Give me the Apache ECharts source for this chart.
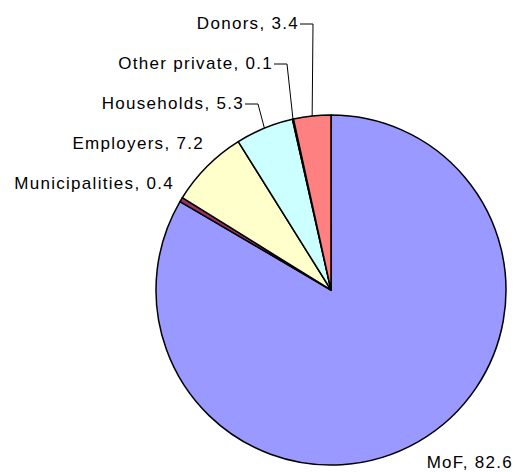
<!DOCTYPE html>
<html>
<head>
<meta charset="utf-8">
<script src="https://cdn.jsdelivr.net/npm/echarts@6/dist/echarts.min.js"></script>
<style>
  html, body { margin: 0; padding: 0; background: #fff; }
  #chart { width: 515px; height: 472px; }
  /* slightly open tracking on the slice labels */
  #chart text { letter-spacing: 1.3px; }
</style>
</head>
<body>
<div id="chart"></div>
<script>
// Funding sources, share of total (%)
const categories = ['MoF', 'Municipalities', 'Employers', 'Households', 'Other private', 'Donors'];
const shares = [82.6, 0.4, 7.2, 5.3, 0.1, 3.4];
const sliceColors = ['#9999FF', '#993366', '#FFFFCC', '#CCFFFF', '#660066', '#FF8080'];

// Label anchors: right edge of text and vertical centre, plus whether a leader line is drawn
const labelRight = [513, 174, 204, 244, 273, 299];
const labelMid = [462, 183, 143, 103, 63, 23];
const hasLeader = [false, false, false, true, true, true];

const chart = echarts.init(document.getElementById('chart'), null, { renderer: 'svg' });

chart.setOption({
  animation: false,
  backgroundColor: '#ffffff',
  series: [{
    type: 'pie',
    center: [331, 290],
    radius: 175,
    startAngle: 90,
    clockwise: true,
    avoidLabelOverlap: false,
    minShowLabelAngle: 0,
    itemStyle: { borderColor: '#000', borderWidth: 1.5 },
    emphasis: { disabled: true },
    label: {
      show: true,
      position: 'outside',
      formatter: '{b}, {c}',
      fontFamily: '"Liberation Sans", Arial, sans-serif',
      fontSize: 17,
      color: '#000'
    },
    labelLine: {
      show: true,
      lineStyle: { color: '#000', width: 1 }
    },
    labelLayout: function (params) {
      const i = params.dataIndex;
      const x = labelRight[i];
      const y = labelMid[i];
      const out = { x: x, y: y, align: 'right', verticalAlign: 'middle' };
      if (hasLeader[i] && params.labelLinePoints) {
        const start = params.labelLinePoints[0];
        out.labelLinePoints = [
          [start[0], start[1]],
          [x + 14, y + 1],
          [x + 1, y + 1]
        ];
      }
      return out;
    },
    data: categories.map(function (name, i) {
      return {
        name: name,
        value: shares[i],
        itemStyle: { color: sliceColors[i] },
        labelLine: { show: hasLeader[i] }
      };
    })
  }]
});
</script>
</body>
</html>
